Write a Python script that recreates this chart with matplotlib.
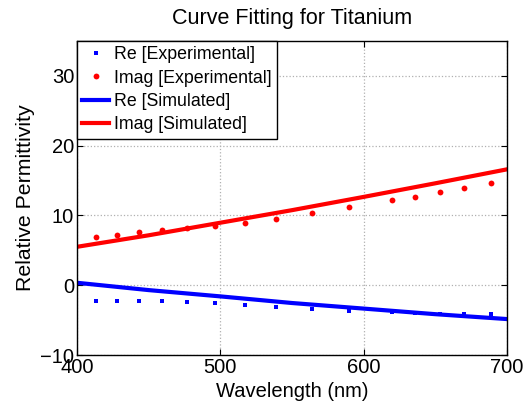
import matplotlib
matplotlib.use("Agg")
import matplotlib.pyplot as plt
import numpy as np

plt.rcParams['font.family'] = ['Liberation Sans', 'DejaVu Sans']

# Measured permittivity of titanium
wl_exp = [413, 428, 443, 459, 477, 496, 517, 539, 564, 590, 620, 636, 653, 670, 689]
re_exp = [-2.20, -2.20, -2.20, -2.25, -2.38, -2.53, -2.81, -3.06, -3.39, -3.63,
          -3.87, -3.92, -4.06, -4.06, -4.16]
im_exp = [6.89, 7.23, 7.60, 7.89, 8.23, 8.46, 8.95, 9.52, 10.28, 11.14,
          12.15, 12.68, 13.29, 13.97, 14.69]

# Fitted model
wl_sim = [400, 450, 500, 550, 600, 650, 700]
re_sim = [0.35, -0.70, -1.60, -2.55, -3.35, -4.15, -4.85]
im_sim = [5.50, 7.15, 8.95, 10.75, 12.65, 14.60, 16.60]

fig = plt.figure(figsize=(5.27, 4.09), dpi=100)
ax = fig.add_axes([0.146, 0.132, 0.816, 0.768])

ax.plot(wl_exp, re_exp, 's', color='#0000ff', markersize=3.3, markeredgewidth=0,
        label='Re [Experimental]')
ax.plot(wl_exp, im_exp, 'o', color='#ff0000', markersize=4.2, markeredgewidth=0,
        label='Imag [Experimental]')
ax.plot(wl_sim, re_sim, '-', color='#0000ff', linewidth=3, label='Re [Simulated]')
ax.plot(wl_sim, im_sim, '-', color='#ff0000', linewidth=3, label='Imag [Simulated]')

ax.set_xlim(400, 700)
ax.set_ylim(-10, 35)
ax.set_xticks([400, 500, 600, 700])
ax.set_yticks([-10, 0, 10, 20, 30])
ax.grid(True, linestyle=':', color='#b0b0b0', linewidth=0.9)
ax.tick_params(direction='in', top=True, right=True, labelsize=14.5, length=4, pad=2)
for s in ax.spines.values():
    s.set_linewidth(1.0)

ax.set_title('Curve Fitting for Titanium', fontsize=15.5, pad=12)
ax.set_xlabel('Wavelength (nm)', fontsize=14.5, labelpad=4)
ax.set_ylabel('Relative Permittivity', fontsize=15.3, labelpad=4)

leg = ax.legend(loc='upper left', borderaxespad=0, fontsize=12.8, fancybox=False,
                framealpha=1, edgecolor='black', handlelength=1.5, handletextpad=0.3,
                borderpad=0.3, labelspacing=0.36)
leg.get_frame().set_linewidth(1.0)

fig.savefig('out.png', dpi=100)
